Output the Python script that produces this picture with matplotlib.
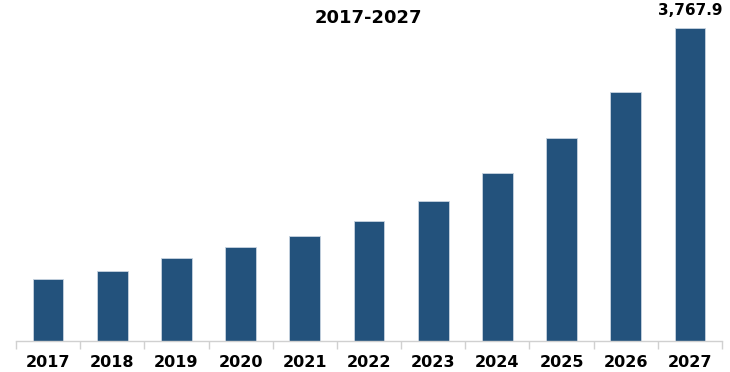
import numpy as np
import matplotlib
matplotlib.use("Agg")
import matplotlib.pyplot as plt

years = ["2017", "2018", "2019", "2020", "2021", "2022", "2023", "2024", "2025", "2026", "2027"]
values = [746, 843, 999, 1132, 1264, 1445, 1685, 2022, 2444, 2997, 3767.9]
title = "2017-2027"
bar_color = "#23527c"

plt.rcParams['font.family'] = ['DejaVu Sans']

fig = plt.figure(figsize=(7.3, 3.72), dpi=100)
ax = fig.add_axes([16/730, 31/372, 706/730, 331/372])

x = np.arange(len(years))
ax.bar(x, values, width=0.48, color=bar_color, edgecolor="#c8d4e0", linewidth=0.6)

ax.set_xlim(-0.5, len(years) - 0.5)
ax.set_ylim(0, values[-1] * 331 / 313)

ax.set_xticks(x)
ax.set_xticklabels(years, fontsize=11.5, fontweight="bold")
ax.tick_params(axis="x", which="major", length=0, pad=10)
ax.set_xticks(np.arange(-0.5, len(years), 1), minor=True)
ax.tick_params(axis="x", which="minor", length=6, color="#d0d0d0", width=1)
ax.set_yticks([])

for s in ["top", "right", "left"]:
    ax.spines[s].set_visible(False)
ax.spines["bottom"].set_color("#d0d0d0")
ax.spines["bottom"].set_linewidth(1)

ax.annotate("{:,.1f}".format(values[-1]), (x[-1], values[-1]), xytext=(0, 7),
            textcoords="offset points", ha="center", va="bottom",
            fontsize=11, fontweight="bold")

fig.text(368/730, 1 - 18/372, title, ha="center", va="center",
         fontsize=13, fontweight="bold")

fig.savefig("out.png", dpi=100)
